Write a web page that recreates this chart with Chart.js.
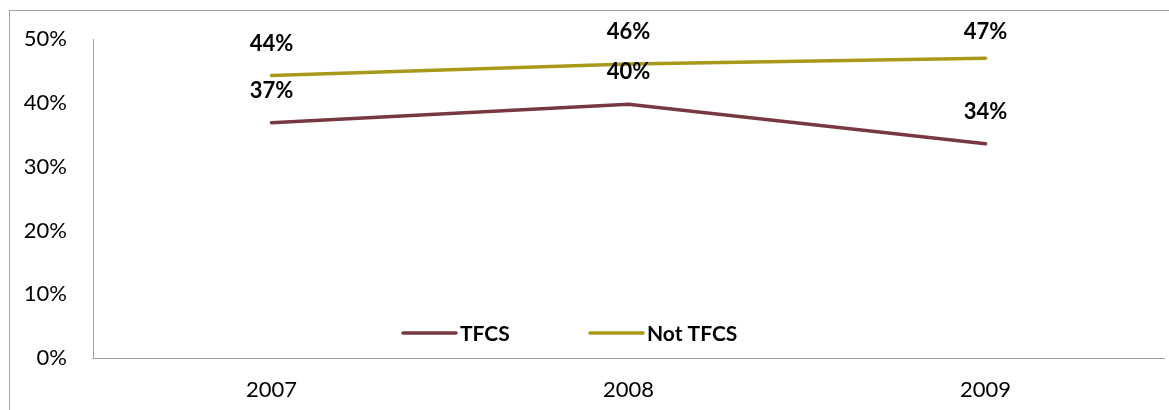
<!DOCTYPE html>
<html>
<head>
<meta charset="utf-8">
<script src="https://cdn.jsdelivr.net/npm/chart.js@4/dist/chart.umd.min.js"></script>
<style>
  html, body { margin: 0; padding: 0; background: #fff; }
  #wrap { width: 1169px; height: 410px; position: relative; }
</style>
</head>
<body>
<div id="wrap"><canvas id="c" width="1169" height="410"></canvas></div>
<script>
const categories = ['2007', '2008', '2009'];
const seriesNames = ['TFCS', 'Not TFCS'];
const tfcsValues = [36.9, 39.8, 33.6];
const notTfcsValues = [44.3, 46.1, 47.0];
const yTickValues = [0, 10, 20, 30, 40, 50];

const FONT = 'Lato, "Open Sans", sans-serif';
const colors = ['#77393F', '#A8991A'];

const frame = {
  id: 'frame',
  beforeDraw(chart) {
    const ctx = chart.ctx;
    ctx.save();
    ctx.fillStyle = '#fff';
    ctx.fillRect(0, 0, chart.width, chart.height);
    ctx.strokeStyle = '#A0A0A0';
    ctx.lineWidth = 1;
    ctx.strokeRect(9.5, 10.5, 1300, 500);
    ctx.restore();
  }
};

const valueLabels = {
  id: 'valueLabels',
  afterDatasetsDraw(chart) {
    const ctx = chart.ctx;
    const top = chart.chartArea.top - 7;
    ctx.save();
    ctx.font = 'bold 22px ' + FONT;
    ctx.fillStyle = '#000';
    ctx.textAlign = 'center';
    ctx.textBaseline = 'middle';
    chart.data.datasets.forEach((ds, i) => {
      const meta = chart.getDatasetMeta(i);
      meta.data.forEach((pt, j) => {
        ctx.fillText(Math.round(ds.data[j]) + '%', pt.x, Math.max(pt.y - 32, top));
      });
    });
    ctx.restore();
  }
};

const innerLegend = {
  id: 'innerLegend',
  afterDraw(chart) {
    const ctx = chart.ctx;
    const area = chart.chartArea;
    const y = area.bottom - 25;
    const starts = [area.left + 310, area.left + 497];
    ctx.save();
    ctx.font = 'bold 21px ' + FONT;
    ctx.textBaseline = 'middle';
    ctx.textAlign = 'left';
    chart.data.datasets.forEach((ds, i) => {
      const x = starts[i];
      ctx.strokeStyle = ds.borderColor;
      ctx.lineWidth = 3.5;
      ctx.lineCap = 'round';
      ctx.beginPath();
      ctx.moveTo(x, y);
      ctx.lineTo(x + 53, y);
      ctx.stroke();
      ctx.fillStyle = '#000';
      ctx.fillText(ds.label, x + 57, y + 1);
    });
    ctx.restore();
  }
};

new Chart(document.getElementById('c'), {
  type: 'line',
  data: {
    labels: categories,
    datasets: [
      { label: seriesNames[0], data: tfcsValues, borderColor: colors[0], backgroundColor: colors[0] },
      { label: seriesNames[1], data: notTfcsValues, borderColor: colors[1], backgroundColor: colors[1] }
    ]
  },
  options: {
    responsive: false,
    animation: false,
    devicePixelRatio: 1,
    layout: { padding: { top: 39, right: 5, left: 10, bottom: 0 } },
    elements: {
      line: { tension: 0, borderWidth: 3.5, borderCapStyle: 'round' },
      point: { radius: 0, hoverRadius: 0 }
    },
    plugins: {
      legend: { display: false },
      tooltip: { enabled: false }
    },
    scales: {
      x: {
        offset: true,
        grid: { display: false, drawTicks: false },
        border: { display: true, color: '#A0A0A0', width: 1 },
        ticks: { color: '#000', font: { family: FONT, size: 22 }, padding: 19 },
        afterFit(s) { s.height = 52; }
      },
      y: {
        min: 0, max: 50,
        afterBuildTicks(s) { s.ticks = yTickValues.map(v => ({ value: v })); },
        grid: { display: false, drawTicks: false },
        border: { display: true, color: '#A0A0A0', width: 1 },
        ticks: { color: '#000', font: { family: FONT, size: 22 }, padding: 26, callback: v => v + '%' },
        afterFit(s) { s.width = 83; }
      }
    }
  },
  plugins: [frame, valueLabels, innerLegend]
});
</script>
</body>
</html>
